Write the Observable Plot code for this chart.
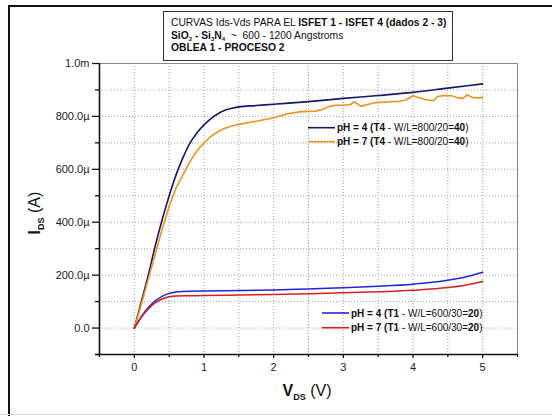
<!DOCTYPE html>
<html><head><meta charset="utf-8">
<script src="https://cdn.jsdelivr.net/npm/d3@7"></script>
<script src="https://cdn.jsdelivr.net/npm/@observablehq/plot@0.6"></script>
<style>
body{margin:0;background:#fff;font-family:"Liberation Sans",Arial,sans-serif;}
#wrap{position:relative;width:552px;height:416px;overflow:hidden;background:#fff;}
#wrap svg{position:absolute;left:0;top:0;}
#frame{position:absolute;left:8px;top:5px;width:600px;height:420px;border-left:2px solid #111;border-top:2px solid #111;box-sizing:border-box;}
#bottomline{position:absolute;left:0;top:414px;width:552px;height:1px;background:#d8d8d8;}
#titlebox{position:absolute;left:163px;top:11px;width:290px;height:50px;border:1.5px solid #333;box-sizing:border-box;background:#fff;font-size:10.3px;line-height:12.7px;padding:5px 0 0 7px;color:#111;white-space:nowrap;}
#titlebox sub{font-size:6px;vertical-align:-2px;line-height:0;}
</style></head><body><div id="wrap"><div id="frame"></div><div id="bottomline"></div></div>
<script>
// ---- Data (V in volts, I in µA) ----
const vds_T4_pH4 = [0,0.1,0.2,0.3,0.4,0.5,0.6,0.7,0.8,0.9,1.0,1.1,1.2,1.3,1.4,1.5,1.75,2.0,2.5,3.0,3.5,4.0,4.5,5.0];
const ids_T4_pH4 = [0,100,200,310,410,500,580,645,700,738,768,792,810,823,831,836,841,846,856,868,879,891,907,923];

const vds_T4_pH7 = [0,0.1,0.2,0.3,0.4,0.5,0.6,0.7,0.8,0.9,1.0,1.1,1.2,1.3,1.4,1.5,1.75,2.0,2.2,2.4,2.6,2.7,2.8,2.9,3.0,3.1,3.16,3.25,3.35,3.45,3.6,3.7,3.8,3.9,4.0,4.1,4.2,4.3,4.35,4.45,4.55,4.65,4.72,4.78,4.85,4.92,5.0];
const ids_T4_pH7 = [0,90,185,280,375,460,530,580,630,670,700,725,742,755,764,770,782,795,810,818,820,826,838,842,842,845,856,838,845,852,854,856,857,862,878,870,862,860,875,879,878,870,868,882,872,870,871];

const vds_T1_pH4 = [0,0.05,0.1,0.2,0.3,0.4,0.5,0.6,0.7,0.8,1.0,1.5,2.0,2.5,3.0,3.5,4.0,4.25,4.5,4.75,5.0];
const ids_T1_pH4 = [0,22,43,78,103,120,131,136,138,139,140,142,144,148,152,158,166,172,181,193,211];

const vds_T1_pH7 = [0,0.05,0.1,0.2,0.3,0.4,0.5,0.6,0.8,1.0,1.5,2.0,2.5,3.0,3.5,4.0,4.5,4.75,5.0];
const ids_T1_pH7 = [0,20,40,72,95,110,118,121,122,123,125,127,130,133,137,143,153,162,176];

const seriesNames = ["pH4_T4","pH7_T4","pH4_T1","pH7_T1"];
const seriesColors = ["#17176e","#ec9320","#2424d8","#d82020"];

const xMajorTicks = [0,1,2,3,4,5];
const xMinorTicks = [-0.5,0.5,1.5,2.5,3.5,4.5,5.5];
const yMajorTicks = [0,200e-6,400e-6,600e-6,800e-6,1e-3];
const yMinorTicks = [-100e-6,100e-6,300e-6,500e-6,700e-6,900e-6];
const yTickLabels = ["0.0","200.0µ","400.0µ","600.0µ","800.0µ","1.0m"];
const xGrid = [0,0.5,1,1.5,2,2.5,3,3.5,4,4.5,5];
const yGrid = [0,100e-6,200e-6,300e-6,400e-6,500e-6,600e-6,700e-6,800e-6,900e-6];

const legendTop = [
  {color:"#17176e", parts:[["pH = 4 (T4",700],[" - W/L=800/20=",400],["40",700],[")",400]]},
  {color:"#ec9320", parts:[["pH = 7 (T4",700],[" - W/L=800/20=",400],["40",700],[")",400]]}
];
const legendBottom = [
  {color:"#2424d8", parts:[["pH = 4 (T1",700],[" - W/L=600/30=",400],["20",700],[")",400]]},
  {color:"#d82020", parts:[["pH = 7 (T1",700],[" - W/L=600/30=",400],["20",700],[")",400]]}
];

function mk(vs, is, name){ return vs.map((v,i)=>({V:v, I:is[i]*1e-6, s:name})); }
const d1 = mk(vds_T4_pH4, ids_T4_pH4, seriesNames[0]);
const d2 = mk(vds_T4_pH7, ids_T4_pH7, seriesNames[1]);
const d3s = mk(vds_T1_pH4, ids_T1_pH4, seriesNames[2]);
const d4 = mk(vds_T1_pH7, ids_T1_pH7, seriesNames[3]);

const FONT = '"Liberation Sans", Arial, sans-serif';
const yFmt = v => yTickLabels[yMajorTicks.findIndex(t => Math.abs(t - v) < 1e-9)];

const plot = Plot.plot({
  width: 552, height: 416,
  marginLeft: 99, marginRight: 35, marginTop: 63, marginBottom: 62,
  style: {fontFamily: FONT, fontSize: "11px", color: "#222", background: "transparent"},
  x: {domain: [-0.5, 5.5], label: null},
  y: {domain: [-100e-6, 1e-3], label: null},
  marks: [
    Plot.gridX(xGrid, {stroke: "#9a9a9a", strokeOpacity: 0.9, strokeDasharray: "1,2"}),
    Plot.gridY(yGrid, {stroke: "#9a9a9a", strokeOpacity: 0.9, strokeDasharray: "1,2"}),
    Plot.frame({stroke: "#8a8a8a", strokeWidth: 1}),
    Plot.line(d1, {x: "V", y: "I", stroke: seriesColors[0], strokeWidth: 1.6, curve: "monotone-x"}),
    Plot.line(d2, {x: "V", y: "I", stroke: seriesColors[1], strokeWidth: 1.6}),
    Plot.line(d3s, {x: "V", y: "I", stroke: seriesColors[2], strokeWidth: 1.5, curve: "monotone-x"}),
    Plot.line(d4, {x: "V", y: "I", stroke: seriesColors[3], strokeWidth: 1.5, curve: "monotone-x"}),
    Plot.ruleX([-0.5], {stroke: "#111", strokeWidth: 1.6}),
    Plot.ruleY([-100e-6], {stroke: "#111", strokeWidth: 1.6, x1: -0.55, x2: 5.5}),
    Plot.axisY(yMajorTicks, {tickSize: 7, tickPadding: 3, tickFormat: yFmt, stroke: "#111", strokeWidth: 1.3}),
    Plot.axisY(yMinorTicks, {tickSize: 4, text: null, stroke: "#111", strokeWidth: 1.3}),
    Plot.axisX(xMajorTicks, {tickSize: 4, tickPadding: 5, tickFormat: d => String(d), stroke: "#111", strokeWidth: 1.3}),
    Plot.axisX(xMinorTicks, {tickSize: 3, text: null, stroke: "#111", strokeWidth: 1.3})
  ]
});

document.getElementById("wrap").appendChild(plot);
const svg = d3.select(plot);

// Axis titles
const yl = svg.append("text").attr("transform", "translate(40,213) rotate(-90)")
  .attr("text-anchor", "middle").style("font-family", FONT).style("font-size", "16px").attr("fill", "#111");
yl.append("tspan").attr("font-weight", 700).text("I");
yl.append("tspan").attr("font-weight", 700).attr("font-size", "9px").attr("dy", 4).text("DS");
yl.append("tspan").attr("dy", -4).text(" (A)");

const xl = svg.append("text").attr("x", 307).attr("y", 396)
  .attr("text-anchor", "middle").style("font-family", FONT).style("font-size", "16px").attr("fill", "#111");
xl.append("tspan").attr("font-weight", 700).text("V");
xl.append("tspan").attr("font-weight", 700).attr("font-size", "9px").attr("dy", 4).text("DS");
xl.append("tspan").attr("dy", -4).text(" (V)");

// Legends
function legend(items, x0, y0, dy) {
  items.forEach((it, k) => {
    const y = y0 + k * dy;
    svg.append("line").attr("x1", x0).attr("x2", x0 + 27).attr("y1", y).attr("y2", y)
      .attr("stroke", it.color).attr("stroke-width", 1.6);
    const t = svg.append("text").attr("x", x0 + 29).attr("y", y + 3.5)
      .attr("text-anchor", "start")
      .style("font-family", FONT).style("font-size", "10px").attr("fill", "#111");
    it.parts.forEach(p => t.append("tspan").attr("font-weight", p[1]).text(p[0]));
  });
}
legend(legendTop, 308, 127.7, 14);
legend(legendBottom, 322, 313, 14.7);

// Title box
const tb = document.createElement("div");
tb.id = "titlebox";
tb.innerHTML = 'CURVAS Ids-Vds PARA EL <b>ISFET 1 - ISFET 4 (dados 2 - 3)</b><br>' +
  '<b>SiO<sub>2</sub> - Si<sub>3</sub>N<sub>4</sub></b>&nbsp; ~&nbsp; 600 - 1200 Angstroms<br>' +
  '<b>OBLEA 1 - PROCESO 2</b>';
document.getElementById("wrap").appendChild(tb);
</script></body></html>
